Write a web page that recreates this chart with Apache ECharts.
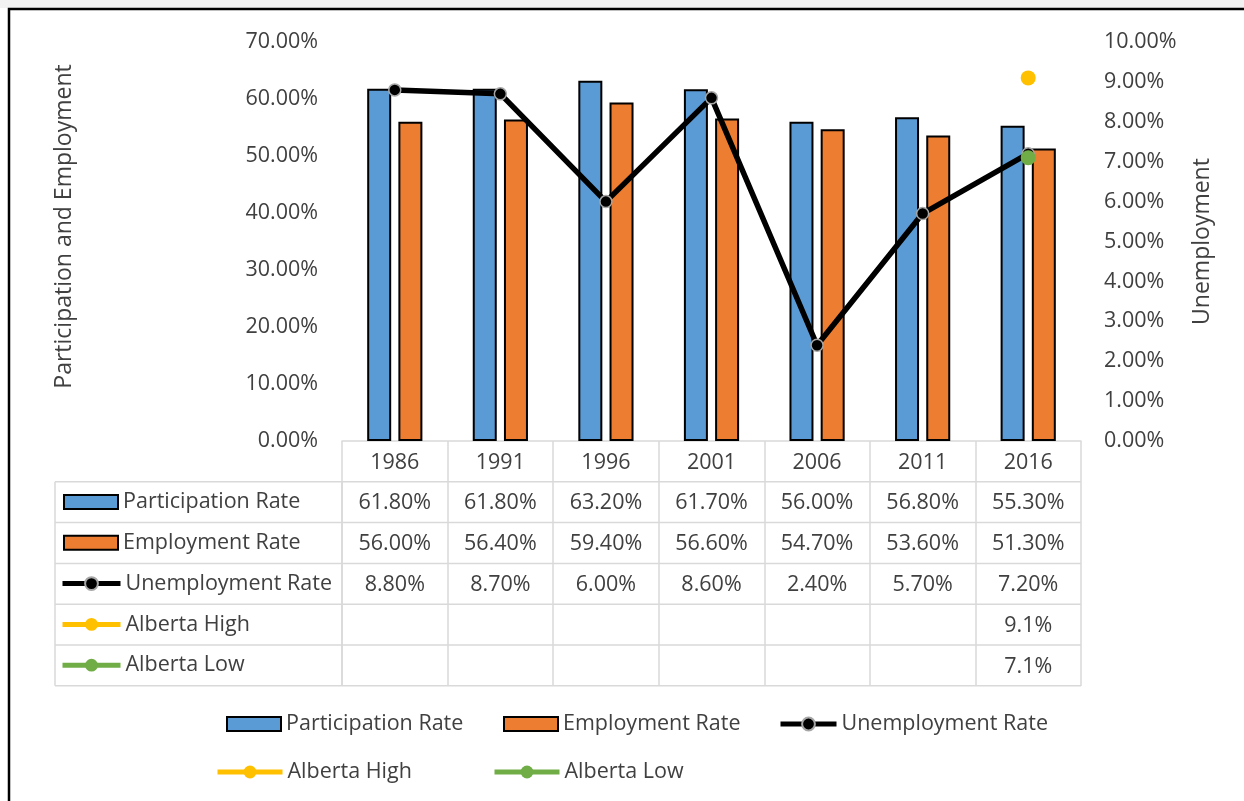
<!DOCTYPE html>
<html>
<head>
<meta charset="utf-8">
<title>Participation, Employment and Unemployment</title>
<script src="https://cdn.jsdelivr.net/npm/echarts@6/dist/echarts.min.js"></script>
<style>
html, body { margin: 0; padding: 0; background: #fff; }
#main { width: 1244px; height: 801px; }
</style>
</head>
<body>
<div id="main"></div>
<script>
const years = ['1986', '1991', '1996', '2001', '2006', '2011', '2016'];
const participation = [61.8, 61.8, 63.2, 61.7, 56.0, 56.8, 55.3];
const employment = [56.0, 56.4, 59.4, 56.6, 54.7, 53.6, 51.3];
const unemployment = [8.8, 8.7, 6.0, 8.6, 2.4, 5.7, 7.2];
const albertaHigh = [null, null, null, null, null, null, 9.1];
const albertaLow = [null, null, null, null, null, null, 7.1];

const leftTicks = { min: 0, max: 70, interval: 10 };
const rightTicks = { min: 0, max: 10, interval: 1 };

const FONT = 'Open Sans';
const FS = 21.5;
const TXT = '#404040';
const GRID_LINE = '#d9d9d9';
const ROW_H = 40.8;

var chart = echarts.init(document.getElementById('main'));

// one legend item placed where it sits in the picture
function legendAt(name, left, top, isBar, width) {
  return {
    data: [isBar ? { name: name, icon: 'rect' } : name],
    left: left, top: top, padding: 0,
    itemWidth: width, itemHeight: isBar ? 14 : 16, itemGap: 0,
    selectedMode: false,
    lineStyle: { width: 5 },
    textStyle: { fontFamily: FONT, fontSize: FS, color: TXT, lineHeight: 22 }
  };
}

var keyNames = ['Participation Rate', 'Employment Rate', 'Unemployment Rate', 'Alberta High', 'Alberta Low'];
var legends = [];
// key column of the data table
keyNames.forEach(function (n, i) {
  var isBar = i < 2;
  legends.push(legendAt(n, isBar ? 63 : 60, 491 + ROW_H * i, isBar, isBar ? 54 : 58));
});
legends.push(legendAt('Participation Rate', 226, 713, true, 54));
legends.push(legendAt('Employment Rate', 503, 713, true, 54));
legends.push(legendAt('Unemployment Rate', 778, 713, false, 56));
legends.push(legendAt('Alberta High', 215, 761, false, 65));
legends.push(legendAt('Alberta Low', 492, 761, false, 65));

var option = {
  animation: false,
  backgroundColor: '#fff',
  grid: { left: 342, right: 163, top: 42, bottom: 360 },
  legend: legends,
  xAxis: {
    type: 'category',
    data: years,
    axisLine: { lineStyle: { color: GRID_LINE, width: 1.5 } },
    axisTick: { show: true, interval: 0, length: 245, lineStyle: { color: GRID_LINE, width: 1.5 } },
    axisLabel: { margin: 11, fontFamily: FONT, fontSize: FS, color: TXT, lineHeight: 22 }
  },
  yAxis: [
    {
      type: 'value',
      min: leftTicks.min, max: leftTicks.max, interval: leftTicks.interval,
      name: 'Participation and Employment',
      nameLocation: 'middle', nameGap: 266, nameRotate: 90,
      nameTextStyle: { fontFamily: FONT, fontSize: 23, color: TXT, padding: [0, 0, 0, 30] },
      axisLine: { show: false }, axisTick: { show: false }, splitLine: { show: false },
      axisLabel: { margin: 24, fontFamily: FONT, fontSize: FS, color: TXT,
        formatter: function (v) { return v.toFixed(2) + '%'; } }
    },
    {
      type: 'value',
      min: rightTicks.min, max: rightTicks.max, interval: rightTicks.interval,
      name: 'Unemployment',
      nameLocation: 'middle', nameGap: 110, nameRotate: 90,
      nameTextStyle: { fontFamily: FONT, fontSize: 23, color: TXT },
      axisLine: { show: false }, axisTick: { show: false }, splitLine: { show: false },
      axisLabel: { margin: 23, fontFamily: FONT, fontSize: FS, color: TXT,
        formatter: function (v) { return v.toFixed(2) + '%'; } }
    }
  ],
  series: [
    {
      name: 'Participation Rate', type: 'bar', data: participation,
      barWidth: 24, barGap: '30%',
      itemStyle: { color: '#5b9bd5', borderColor: '#000', borderWidth: 2 }
    },
    {
      name: 'Employment Rate', type: 'bar', data: employment,
      barWidth: 24,
      itemStyle: { color: '#ed7d31', borderColor: '#000', borderWidth: 2 }
    },
    {
      name: 'Unemployment Rate', type: 'line', yAxisIndex: 1, data: unemployment,
      z: 5, symbol: 'circle', symbolSize: 12,
      lineStyle: { color: '#000', width: 5.5 },
      itemStyle: { color: '#000', borderColor: '#a6a6a6', borderWidth: 1.5 }
    },
    {
      name: 'Alberta High', type: 'line', yAxisIndex: 1, data: albertaHigh,
      z: 6, symbol: 'circle', symbolSize: 15,
      lineStyle: { color: '#ffc000', width: 5 },
      itemStyle: { color: '#ffc000' }
    },
    {
      name: 'Alberta Low', type: 'line', yAxisIndex: 1, data: albertaLow,
      z: 6, symbol: 'circle', symbolSize: 15,
      lineStyle: { color: '#70ad47', width: 5 },
      itemStyle: { color: '#70ad47' }
    }
  ]
};
chart.setOption(option);

// data table under the plot, laid out from the category axis
var tableLeft = 55;
var c0 = chart.convertToPixel({ xAxisIndex: 0 }, years[0]);
var c1 = chart.convertToPixel({ xAxisIndex: 0 }, years[1]);
var band = c1 - c0;
var yBase = chart.convertToPixel({ yAxisIndex: 0 }, 0);
var tableRight = chart.convertToPixel({ xAxisIndex: 0 }, years[years.length - 1]) + band / 2;
var firstCol = c0 - band / 2;

var rows = [
  { values: participation, digits: 2 },
  { values: employment, digits: 2 },
  { values: unemployment, digits: 2 },
  { values: albertaHigh, digits: 1 },
  { values: albertaLow, digits: 1 }
];

var graphics = [
  { type: 'rect', silent: true, z: -1, shape: { x: 0, y: 0, width: 1244, height: 8 }, style: { fill: '#f2f2f2' } },
  { type: 'rect', silent: true, shape: { x: 9, y: 9, width: 1300, height: 900 }, style: { fill: 'none', stroke: '#000', lineWidth: 2.5 } },
  { type: 'line', silent: true, shape: { x1: tableLeft, y1: yBase + ROW_H, x2: tableLeft, y2: yBase + ROW_H * 6 },
    style: { stroke: GRID_LINE, lineWidth: 1.5 } },
  { type: 'line', silent: true, shape: { x1: firstCol, y1: yBase + ROW_H, x2: firstCol, y2: yBase + ROW_H * 6 },
    style: { stroke: GRID_LINE, lineWidth: 1.5 } }
];
for (var r = 1; r <= 6; r++) {
  graphics.push({ type: 'line', silent: true,
    shape: { x1: tableLeft, y1: yBase + ROW_H * r, x2: tableRight, y2: yBase + ROW_H * r },
    style: { stroke: GRID_LINE, lineWidth: 1.5 } });
}
rows.forEach(function (row, ri) {
  row.values.forEach(function (v, ci) {
    if (v == null) return;
    graphics.push({
      type: 'text', silent: true,
      x: chart.convertToPixel({ xAxisIndex: 0 }, years[ci]),
      y: yBase + ROW_H * (ri + 1.5) + 1,
      style: { text: v.toFixed(row.digits) + '%', fontFamily: FONT, fontSize: FS, fill: TXT,
        align: 'center', verticalAlign: 'middle' }
    });
  });
});
chart.setOption({ graphic: graphics });
</script>
</body>
</html>
